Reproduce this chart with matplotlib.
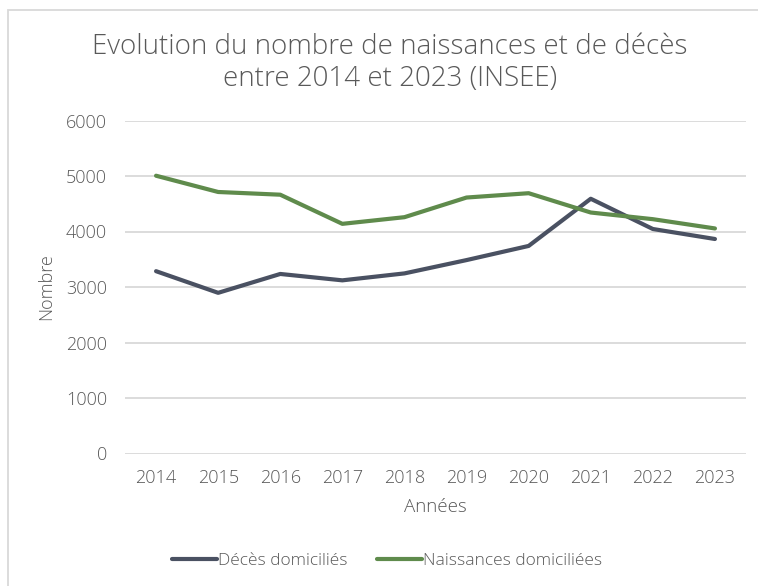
import matplotlib
matplotlib.use("Agg")
import matplotlib.pyplot as plt
from matplotlib.patches import Rectangle

years = ["2014", "2015", "2016", "2017", "2018", "2019", "2020", "2021", "2022", "2023"]
deces = [3285, 2895, 3235, 3120, 3245, 3485, 3740, 4590, 4045, 3865]
naissances = [5005, 4712, 4663, 4138, 4258, 4612, 4690, 4342, 4222, 4055]
yticks = [0, 1000, 2000, 3000, 4000, 5000, 6000]

plt.rcParams['font.family'] = ['Open Sans', 'DejaVu Sans']
txt = '#595959'

W, H = 758, 586
fig = plt.figure(figsize=(W/100, H/100), dpi=100)
fig.patches.append(Rectangle((8/W, -0.01), 1, 1.01 - 10/H, transform=fig.transFigure,
                             fill=False, edgecolor='#d9d9d9', linewidth=1.3))

ax = fig.add_axes([125/W, 1 - 453.5/H, (746-125)/W, (453.5-120.5)/H])
x = list(range(len(years)))
ax.plot(x, deces, color='#4a5162', linewidth=3, solid_capstyle='round', label='Décès domiciliés')
ax.plot(x, naissances, color='#5f8b4c', linewidth=3, solid_capstyle='round', label='Naissances domiciliées')
ax.set_xlim(-0.5, len(years) - 0.5)
ax.set_ylim(0, 6000)
ax.set_yticks(yticks)
ax.set_yticklabels([str(v) for v in yticks], color=txt, fontsize=13, fontweight='light')
ax.set_xticks(x)
ax.set_xticklabels(years, color=txt, fontsize=13, fontweight='light')
ax.grid(axis='y', color='#d9d9d9', linewidth=1.3)
ax.set_axisbelow(True)
for s in ax.spines.values():
    s.set_visible(False)
ax.tick_params(axis='x', length=0, pad=11)
ax.tick_params(axis='y', length=0, pad=13)

fig.text(435.5/W, 1 - 507.5/H, 'Années', ha='center', va='center', color=txt,
         fontsize=13.5, fontweight='light')
fig.text(46/W, 1 - 287/H, 'Nombre', ha='center', va='center', rotation=90, color=txt,
         fontsize=13, fontweight='light')

fig.text(390/W, 1 - 63/H, 'Evolution du nombre de naissances et de décès\nentre 2014 et 2023 (INSEE)',
         ha='center', va='center', fontsize=20, color=txt, fontweight='light', linespacing=1.2)

fig.legend(loc='center', bbox_to_anchor=(387/W, 1 - 561/H), ncol=2, frameon=False,
           handlelength=2.6, handletextpad=0.05, columnspacing=1.7,
           prop={'size': 12.5, 'weight': 'light'}, labelcolor=txt)

fig.savefig('out.png', dpi=100)
